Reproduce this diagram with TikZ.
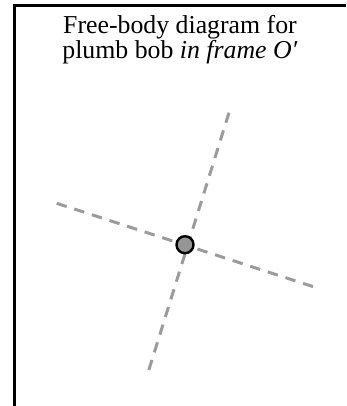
\documentclass[tikz,border=0pt]{standalone}
\usepackage{fontspec}
\setmainfont{Liberation Serif}
\definecolor{dashgray}{RGB}{155,155,155}
\definecolor{bobgray}{RGB}{150,150,150}
\begin{document}
\begin{tikzpicture}[x=1pt,y=-1pt,
  frameline/.style={line width=3pt,black},
  axisline/.style={dashgray,line width=3pt,dash pattern=on 10.5pt off 8pt},
  bobnode/.style={circle,draw=black,fill=bobgray,line width=2.4pt,minimum size=17pt,inner sep=0pt},
  titletext/.style={align=center,font=\fontsize{25.8}{23.3}\selectfont,inner sep=0pt}]
\useasboundingbox (0,0) rectangle (346,406);
\coordinate (fbl) at (14.5,406);
\coordinate (ftl) at (14.5,5.5);
\coordinate (ftr) at (346,5.5);
\draw[frameline] (fbl) -- (ftl) -- (ftr);
\node[titletext,anchor=base] (title) at (180,58.3) {Free-body diagram for\\plumb bob \textit{in frame O′}};
\coordinate (a1) at (229,112.7);
\coordinate (a2) at (148.3,371.7);
\coordinate (b1) at (56.7,203.3);
\coordinate (b2) at (313.3,286.7);
\draw[axisline] (a1) -- (a2);
\draw[axisline] (b1) -- (b2);
\node[bobnode] (bob) at (185,244.7) {};
\end{tikzpicture}
\end{document}
